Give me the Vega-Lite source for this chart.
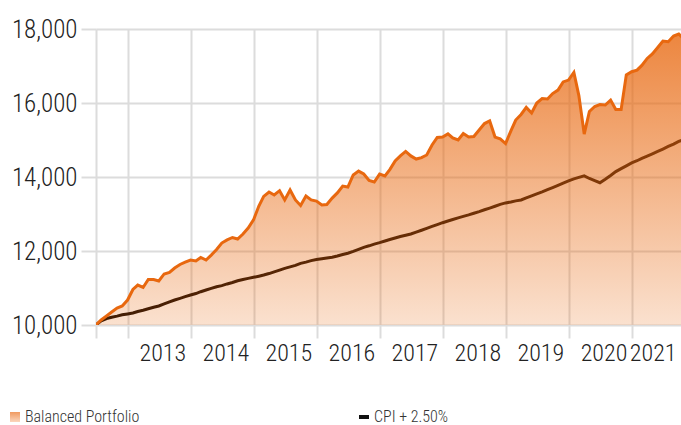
{
  "$schema": "https://vega.github.io/schema/vega-lite/v6.json",
  "width": 585,
  "height": 296,
  "autosize": {"type": "none"},
  "padding": {"left": 96, "top": 29, "right": 0, "bottom": 100},
  "config": {
    "view": {"stroke": null},
    "font": "Roboto Condensed, Roboto",
    "axis": {
      "labelFont": "Roboto Condensed, Roboto",
      "labelFontSize": 25,
      "labelFontWeight": 300,
      "labelColor": "#222222",
      "gridColor": "#dcdcdc",
      "gridWidth": 2,
      "tickColor": "#dcdcdc",
      "tickWidth": 2,
      "domain": false,
      "title": null
    }
  },
  "data": {"values": [
    {"date": "2012-06-30", "portfolio": 10000, "cpi": 10000},
    {"date": "2012-07-31", "portfolio": 10135, "cpi": 10110},
    {"date": "2012-08-31", "portfolio": 10245, "cpi": 10175},
    {"date": "2012-09-30", "portfolio": 10350, "cpi": 10210},
    {"date": "2012-10-31", "portfolio": 10460, "cpi": 10240},
    {"date": "2012-11-30", "portfolio": 10515, "cpi": 10275},
    {"date": "2012-12-31", "portfolio": 10675, "cpi": 10300},
    {"date": "2013-01-31", "portfolio": 10960, "cpi": 10325},
    {"date": "2013-02-28", "portfolio": 11080, "cpi": 10365},
    {"date": "2013-03-31", "portfolio": 11015, "cpi": 10400},
    {"date": "2013-04-30", "portfolio": 11230, "cpi": 10440},
    {"date": "2013-05-31", "portfolio": 11230, "cpi": 10480},
    {"date": "2013-06-30", "portfolio": 11190, "cpi": 10515},
    {"date": "2013-07-31", "portfolio": 11380, "cpi": 10570},
    {"date": "2013-08-31", "portfolio": 11420, "cpi": 10625},
    {"date": "2013-09-30", "portfolio": 11540, "cpi": 10675},
    {"date": "2013-10-31", "portfolio": 11635, "cpi": 10720},
    {"date": "2013-11-30", "portfolio": 11700, "cpi": 10765},
    {"date": "2013-12-31", "portfolio": 11755, "cpi": 10810},
    {"date": "2014-01-31", "portfolio": 11730, "cpi": 10850},
    {"date": "2014-02-28", "portfolio": 11825, "cpi": 10900},
    {"date": "2014-03-31", "portfolio": 11755, "cpi": 10945},
    {"date": "2014-04-30", "portfolio": 11890, "cpi": 10990},
    {"date": "2014-05-31", "portfolio": 12040, "cpi": 11035},
    {"date": "2014-06-30", "portfolio": 12215, "cpi": 11065},
    {"date": "2014-07-31", "portfolio": 12300, "cpi": 11110},
    {"date": "2014-08-31", "portfolio": 12365, "cpi": 11150},
    {"date": "2014-09-30", "portfolio": 12325, "cpi": 11195},
    {"date": "2014-10-31", "portfolio": 12460, "cpi": 11230},
    {"date": "2014-11-30", "portfolio": 12620, "cpi": 11260},
    {"date": "2014-12-31", "portfolio": 12840, "cpi": 11290},
    {"date": "2015-01-31", "portfolio": 13215, "cpi": 11320},
    {"date": "2015-02-28", "portfolio": 13475, "cpi": 11350},
    {"date": "2015-03-31", "portfolio": 13595, "cpi": 11390},
    {"date": "2015-04-30", "portfolio": 13515, "cpi": 11435},
    {"date": "2015-05-31", "portfolio": 13630, "cpi": 11485},
    {"date": "2015-06-30", "portfolio": 13380, "cpi": 11530},
    {"date": "2015-07-31", "portfolio": 13650, "cpi": 11570},
    {"date": "2015-08-31", "portfolio": 13380, "cpi": 11610},
    {"date": "2015-09-30", "portfolio": 13230, "cpi": 11665},
    {"date": "2015-10-31", "portfolio": 13485, "cpi": 11700},
    {"date": "2015-11-30", "portfolio": 13380, "cpi": 11740},
    {"date": "2015-12-31", "portfolio": 13350, "cpi": 11770},
    {"date": "2016-01-31", "portfolio": 13245, "cpi": 11790},
    {"date": "2016-02-29", "portfolio": 13255, "cpi": 11810},
    {"date": "2016-03-31", "portfolio": 13430, "cpi": 11830},
    {"date": "2016-04-30", "portfolio": 13570, "cpi": 11865},
    {"date": "2016-05-31", "portfolio": 13755, "cpi": 11905},
    {"date": "2016-06-30", "portfolio": 13730, "cpi": 11940},
    {"date": "2016-07-31", "portfolio": 14055, "cpi": 11990},
    {"date": "2016-08-31", "portfolio": 14160, "cpi": 12045},
    {"date": "2016-09-30", "portfolio": 14080, "cpi": 12100},
    {"date": "2016-10-31", "portfolio": 13905, "cpi": 12140},
    {"date": "2016-11-30", "portfolio": 13865, "cpi": 12185},
    {"date": "2016-12-31", "portfolio": 14080, "cpi": 12225},
    {"date": "2017-01-31", "portfolio": 14030, "cpi": 12270},
    {"date": "2017-02-28", "portfolio": 14200, "cpi": 12310},
    {"date": "2017-03-31", "portfolio": 14435, "cpi": 12350},
    {"date": "2017-04-30", "portfolio": 14570, "cpi": 12390},
    {"date": "2017-05-31", "portfolio": 14690, "cpi": 12425},
    {"date": "2017-06-30", "portfolio": 14570, "cpi": 12460},
    {"date": "2017-07-31", "portfolio": 14485, "cpi": 12510},
    {"date": "2017-08-31", "portfolio": 14525, "cpi": 12560},
    {"date": "2017-09-30", "portfolio": 14595, "cpi": 12610},
    {"date": "2017-10-31", "portfolio": 14865, "cpi": 12665},
    {"date": "2017-11-30", "portfolio": 15070, "cpi": 12715},
    {"date": "2017-12-31", "portfolio": 15080, "cpi": 12765},
    {"date": "2018-01-31", "portfolio": 15165, "cpi": 12810},
    {"date": "2018-02-28", "portfolio": 15055, "cpi": 12850},
    {"date": "2018-03-31", "portfolio": 15000, "cpi": 12895},
    {"date": "2018-04-30", "portfolio": 15175, "cpi": 12935},
    {"date": "2018-05-31", "portfolio": 15080, "cpi": 12975},
    {"date": "2018-06-30", "portfolio": 15095, "cpi": 13020},
    {"date": "2018-07-31", "portfolio": 15270, "cpi": 13065},
    {"date": "2018-08-31", "portfolio": 15445, "cpi": 13115},
    {"date": "2018-09-30", "portfolio": 15515, "cpi": 13160},
    {"date": "2018-10-31", "portfolio": 15080, "cpi": 13210},
    {"date": "2018-11-30", "portfolio": 15030, "cpi": 13260},
    {"date": "2018-12-31", "portfolio": 14905, "cpi": 13300},
    {"date": "2019-01-31", "portfolio": 15245, "cpi": 13325},
    {"date": "2019-02-28", "portfolio": 15540, "cpi": 13355},
    {"date": "2019-03-31", "portfolio": 15690, "cpi": 13380},
    {"date": "2019-04-30", "portfolio": 15880, "cpi": 13435},
    {"date": "2019-05-31", "portfolio": 15730, "cpi": 13490},
    {"date": "2019-06-30", "portfolio": 16000, "cpi": 13545},
    {"date": "2019-07-31", "portfolio": 16120, "cpi": 13600},
    {"date": "2019-08-31", "portfolio": 16110, "cpi": 13660},
    {"date": "2019-09-30", "portfolio": 16255, "cpi": 13715},
    {"date": "2019-10-31", "portfolio": 16350, "cpi": 13775},
    {"date": "2019-11-30", "portfolio": 16570, "cpi": 13835},
    {"date": "2019-12-31", "portfolio": 16620, "cpi": 13895},
    {"date": "2020-01-31", "portfolio": 16825, "cpi": 13950},
    {"date": "2020-02-29", "portfolio": 16200, "cpi": 13990},
    {"date": "2020-03-31", "portfolio": 15160, "cpi": 14030},
    {"date": "2020-04-30", "portfolio": 15770, "cpi": 13960},
    {"date": "2020-05-31", "portfolio": 15905, "cpi": 13900},
    {"date": "2020-06-30", "portfolio": 15960, "cpi": 13845},
    {"date": "2020-07-31", "portfolio": 15945, "cpi": 13940},
    {"date": "2020-08-31", "portfolio": 16080, "cpi": 14040},
    {"date": "2020-09-30", "portfolio": 15825, "cpi": 14145},
    {"date": "2020-10-31", "portfolio": 15825, "cpi": 14225},
    {"date": "2020-11-30", "portfolio": 16760, "cpi": 14300},
    {"date": "2020-12-31", "portfolio": 16845, "cpi": 14380},
    {"date": "2021-01-31", "portfolio": 16890, "cpi": 14440},
    {"date": "2021-02-28", "portfolio": 17015, "cpi": 14505},
    {"date": "2021-03-31", "portfolio": 17205, "cpi": 14565},
    {"date": "2021-04-30", "portfolio": 17325, "cpi": 14625},
    {"date": "2021-05-31", "portfolio": 17500, "cpi": 14690},
    {"date": "2021-06-30", "portfolio": 17675, "cpi": 14755},
    {"date": "2021-07-31", "portfolio": 17655, "cpi": 14825},
    {"date": "2021-08-31", "portfolio": 17810, "cpi": 14890},
    {"date": "2021-09-30", "portfolio": 17865, "cpi": 14960},
    {"date": "2021-10-31", "portfolio": 17730, "cpi": 15020}
  ]},
  "encoding": {
    "x": {
      "field": "date",
      "type": "temporal",
      "scale": {
        "type": "utc",
        "domain": [
          {"year": 2012, "month": 7, "date": 1, "utc": true},
          {"year": 2021, "month": 10, "date": 13, "utc": true}
        ]
      },
      "axis": {
        "values": [
          {"year": 2012, "month": 7, "date": 1, "utc": true},
          {"year": 2013, "month": 1, "date": 1, "utc": true},
          {"year": 2014, "month": 1, "date": 1, "utc": true},
          {"year": 2015, "month": 1, "date": 1, "utc": true},
          {"year": 2016, "month": 1, "date": 1, "utc": true},
          {"year": 2017, "month": 1, "date": 1, "utc": true},
          {"year": 2018, "month": 1, "date": 1, "utc": true},
          {"year": 2019, "month": 1, "date": 1, "utc": true},
          {"year": 2020, "month": 1, "date": 1, "utc": true},
          {"year": 2021, "month": 1, "date": 1, "utc": true},
          {"year": 2021, "month": 10, "date": 13, "utc": true}
        ],
        "labelExpr": "utcyear(datum.value - 172800000) < 2013 ? '' : '' + utcyear(datum.value - 172800000)",
        "labelAlign": "right",
        "labelOffset": -5,
        "labelFontSize": 24,
        "labelFlush": false,
        "labelOverlap": false,
        "labelBound": false,
        "tickSize": 13,
        "labelPadding": 3,
        "gridColor": {"condition": {"test": "datum.value > 1625097600000", "value": "transparent"}, "value": "#dcdcdc"},
        "tickColor": {"condition": {"test": "datum.value > 1625097600000", "value": "transparent"}, "value": "#dcdcdc"},
        "title": null
      }
    }
  },
  "layer": [
    {
      "mark": {"type": "line", "strokeWidth": 3, "clip": true},
      "encoding": {
        "y": {
          "field": "cpi",
          "type": "quantitative",
          "scale": {"domain": [10000, 18000], "zero": false, "nice": false},
          "axis": {
            "values": [10000, 12000, 14000, 16000, 18000],
            "format": ",d",
            "tickSize": 15,
            "labelPadding": 4,
            "title": null
          }
        },
        "color": {
          "datum": "CPI + 2.50%",
          "scale": {"domain": ["Balanced Portfolio", "CPI + 2.50%"], "range": ["#e8680f", "#150800"]},
          "legend": {
            "title": null,
            "orient": "none",
            "legendX": -89,
            "legendY": 380,
            "direction": "horizontal",
            "columns": 2,
            "columnPadding": 216,
            "padding": 0,
            "labelFont": "Roboto Condensed, Roboto",
            "labelFontSize": 16,
            "labelFontWeight": 300,
            "labelColor": "#333333",
            "labelOffset": 2,
            "symbolSize": 100,
            "encode": {
              "symbols": {
                "update": {
                  "shape": [
                    {"test": "datum.value === 'CPI + 2.50%'", "value": "M-1,-0.4H1V0.4H-1Z"},
                    {"value": "square"}
                  ],
                  "fill": [
                    {"test": "datum.value === 'CPI + 2.50%'", "value": "#111111"},
                    {"value": {"gradient": "linear", "x1": 0, "y1": 0, "x2": 0, "y2": 1, "stops": [{"offset": 0, "color": "#f09a60"}, {"offset": 1, "color": "#fbd6bd"}]}}
                  ],
                  "stroke": {"value": "transparent"},
                  "strokeWidth": {"value": 0},
                  "opacity": {"value": 1}
                }
              }
            }
          }
        }
      }
    },
    {
      "mark": {
        "type": "area",
        "clip": true,
        "fill": {
          "gradient": "linear",
          "x1": 0, "y1": 0, "x2": 0, "y2": 1,
          "stops": [
            {"offset": 0, "color": "rgba(232,104,15,0.8)"},
            {"offset": 1, "color": "rgba(232,104,15,0.2)"}
          ]
        }
      },
      "encoding": {
        "y": {"field": "portfolio", "type": "quantitative"},
        "y2": {"datum": 10000}
      }
    },
    {
      "mark": {"type": "line", "strokeWidth": 3, "clip": true},
      "encoding": {
        "y": {"field": "portfolio", "type": "quantitative"},
        "color": {"datum": "Balanced Portfolio"}
      }
    }
  ]
}
